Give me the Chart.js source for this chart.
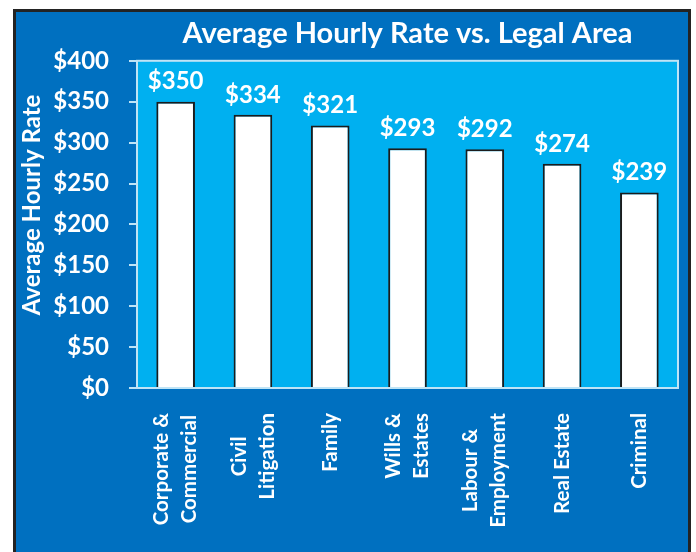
<!DOCTYPE html>
<html>
<head>
<meta charset="utf-8">
<script src="https://cdn.jsdelivr.net/npm/chart.js@4.4.1/dist/chart.umd.min.js"></script>
<style>
  html, body { margin: 0; padding: 0; background: #ffffff; }
  #frame {
    position: absolute; left: 13px; top: 9px;
    width: 672px; height: 543px;
    border: 3px solid #232323; border-bottom: none;
    background: #0070c0;
  }
  #chartBox { position: relative; width: 672px; height: 540px; }
</style>
</head>
<body>
<div id="frame"><div id="chartBox"><canvas id="rateChart"></canvas></div></div>
<script>
// ---------- DATA ----------
const areas = [
  ["Corporate &", "Commercial"],
  ["Civil", "Litigation"],
  "Family",
  ["Wills &", "Estates"],
  ["Labour &", "Employment"],
  "Real Estate",
  "Criminal"
];
const hourlyRates = [350, 334, 321, 293, 292, 274, 239];
const yTickValues = [0, 50, 100, 150, 200, 250, 300, 350, 400];
const yTickLabels = ["$0", "$50", "$100", "$150", "$200", "$250", "$300", "$350", "$400"];
const yAxisTitle = "Average Hourly Rate";

const FONT = "Lato, 'Open Sans', sans-serif";
const LIGHT = "#bfe4f6";

// plot area fill + frame
const plotBg = {
  id: "plotBg",
  beforeDraw(chart) {
    const { ctx, chartArea: a } = chart;
    ctx.save();
    ctx.fillStyle = "#00b0f0";
    ctx.fillRect(a.left, a.top, a.right - a.left, a.bottom - a.top);
    ctx.restore();
  },
  afterDraw(chart) {
    const { ctx, chartArea: a } = chart;
    ctx.save();
    ctx.strokeStyle = LIGHT;
    ctx.lineWidth = 2;
    ctx.strokeRect(a.left, a.top, a.right - a.left, a.bottom - a.top);
    ctx.restore();
  }
};

// value labels above bars
const valueLabels = {
  id: "valueLabels",
  afterDatasetsDraw(chart) {
    const { ctx } = chart;
    const meta = chart.getDatasetMeta(0);
    ctx.save();
    ctx.fillStyle = "#ffffff";
    ctx.font = "bold 24px " + FONT;
    ctx.textAlign = "center";
    ctx.textBaseline = "middle";
    meta.data.forEach((bar, i) => {
      ctx.fillText("$" + hourlyRates[i], bar.x, bar.y - 20);
    });
    ctx.restore();
  }
};

// rotated category labels, lines centred on the tick, block top-aligned
const areaLabels = {
  id: "areaLabels",
  afterDraw(chart) {
    const { ctx } = chart;
    const xs = chart.scales.x;
    const lh = 28;
    ctx.save();
    ctx.fillStyle = "#ffffff";
    ctx.font = "bold 20.5px " + FONT;
    ctx.textAlign = "center";
    ctx.textBaseline = "middle";
    areas.forEach((lab, i) => {
      const lines = Array.isArray(lab) ? lab : [lab];
      const px = xs.getPixelForTick(i);
      const w = Math.max(...lines.map(l => ctx.measureText(l).width));
      const cy = xs.top + 25 + w / 2;
      lines.forEach((l, j) => {
        ctx.save();
        ctx.translate(px + (j - (lines.length - 1) / 2) * lh, cy);
        ctx.rotate(-Math.PI / 2);
        ctx.fillText(l, 0, 0);
        ctx.restore();
      });
    });
    // y axis title
    ctx.font = "bold 24px " + FONT;
    ctx.translate(16, 193);
    ctx.rotate(-Math.PI / 2);
    ctx.fillText(yAxisTitle, 0, 0);
    ctx.restore();
  }
};

new Chart(document.getElementById("rateChart"), {
  type: "bar",
  data: {
    labels: areas,
    datasets: [{
      data: hourlyRates,
      backgroundColor: "#ffffff",
      borderColor: "#1c1c1c",
      borderWidth: 2,
      borderSkipped: "bottom",
      categoryPercentage: 1,
      barPercentage: 0.5
    }]
  },
  options: {
    responsive: true,
    maintainAspectRatio: false,
    animation: false,
    layout: { padding: { top: 0, right: 10, bottom: 0, left: 0 } },
    plugins: {
      legend: { display: false },
      tooltip: { enabled: false },
      title: {
        display: true,
        fullSize: false,
        text: "Average Hourly Rate vs. Legal Area",
        color: "#ffffff",
        font: { family: FONT, size: 29, weight: "bold" },
        padding: { top: 4, bottom: 10 }
      }
    },
    scales: {
      x: {
        grid: { display: false },
        border: { display: true, color: LIGHT, width: 2 },
        ticks: { display: false },
        afterFit(scale) { scale.height = 164; }
      },
      y: {
        min: 0,
        max: 400,
        afterBuildTicks(scale) { scale.ticks = yTickValues.map(v => ({ value: v })); },
        grid: { drawOnChartArea: false, drawTicks: true, tickLength: 8, color: LIGHT, lineWidth: 2 },
        border: { display: true, color: LIGHT, width: 2 },
        ticks: {
          color: "#ffffff",
          font: { family: FONT, size: 24, weight: "bold" },
          padding: 20,
          callback: (v, i) => yTickLabels[i]
        },
        afterFit(scale) { scale.width = 121; }
      }
    }
  },
  plugins: [plotBg, valueLabels, areaLabels]
});
</script>
</body>
</html>
